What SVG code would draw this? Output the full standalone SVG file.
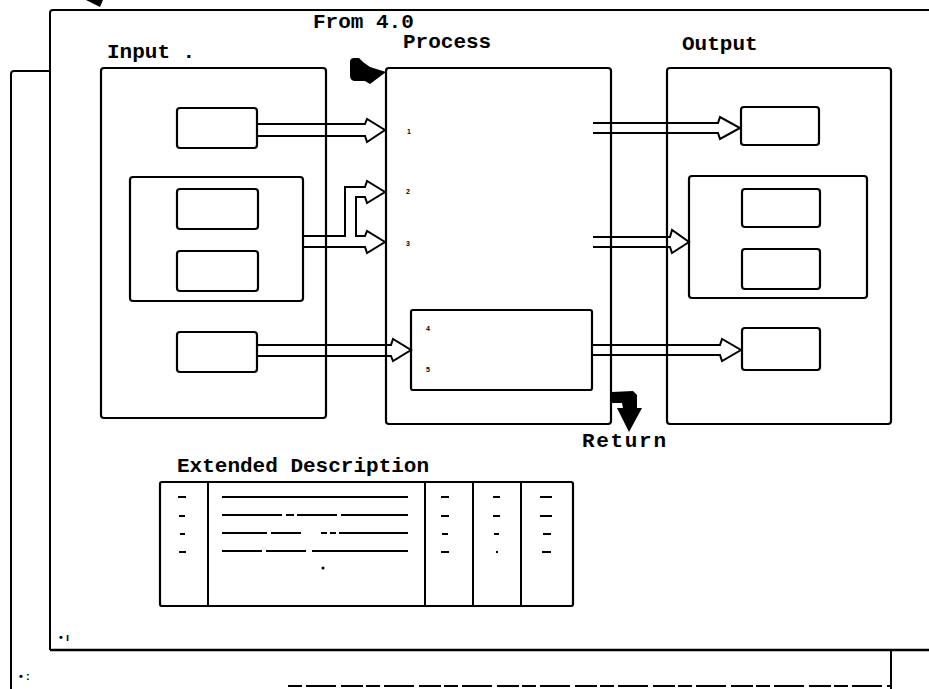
<svg xmlns="http://www.w3.org/2000/svg" width="929" height="689" viewBox="0 0 929 689">
<style>
.bx{fill:none;stroke:#000;stroke-width:2.2}
.ln{fill:none;stroke:#000;stroke-width:2}
.ar{fill:none;stroke:#000;stroke-width:2;stroke-linejoin:miter}
.lbl{font-family:"Liberation Mono","DejaVu Sans Mono",monospace;font-size:21px;font-weight:bold;fill:#000}
.tiny{font-family:"Liberation Sans",sans-serif;font-size:7px;font-weight:bold;fill:#000}
.mark{font-family:"Liberation Sans",sans-serif;font-size:11px;font-weight:bold;fill:#000}
.blk{fill:#000;stroke:none}
.dash{stroke:#000;stroke-width:2;fill:none}
</style>
<rect width="929" height="689" fill="#fff"/>
<g id="frames">
<path class="ln" d="M50,650 L50,13 Q50,10 53,10 L929,10"/>
<path d="M50,650 L929,650" stroke="#000" stroke-width="2.6" fill="none"/>
<path class="ln" d="M11,689 L11,74 Q11,71 14,71 L50,71"/>
<path class="ln" d="M891,650 L891,689"/>
<path d="M288,686 L891,686" stroke="#000" stroke-width="2" stroke-dasharray="14,4,30,5,22,3" fill="none"/>
<polygon class="blk" points="86,0 103,0 100,7"/>
<text class="mark" x="59" y="641">• ı</text>
<text class="mark" x="19" y="680">• :</text>
</g>
<g id="input">
<rect class="bx" x="101" y="68" width="225" height="350" rx="3"/>
<text class="lbl" x="107" y="58">Input .</text>
</g>
<g id="in-box1"><rect class="bx" x="177" y="108" width="80" height="40" rx="3"/></g>
<g id="in-group">
<rect class="bx" x="130" y="177" width="173" height="124" rx="3"/>
<rect class="bx" x="177" y="189" width="81" height="40" rx="3"/>
<rect class="bx" x="177" y="251" width="81" height="40" rx="3"/>
</g>
<g id="in-box3"><rect class="bx" x="177" y="332" width="80" height="40" rx="3"/></g>
<g id="process">
<rect class="bx" x="386" y="68" width="225" height="356" rx="3"/>
<text class="lbl" x="403" y="48">Process</text>
<text class="lbl" x="313" y="28">From 4.0</text>
<text class="tiny" x="407" y="134">1</text>
<text class="tiny" x="406" y="194">2</text>
<text class="tiny" x="406" y="246">3</text>
</g>
<g id="subprocess">
<rect class="bx" x="411" y="310" width="181" height="80" rx="2"/>
<text class="tiny" x="426" y="331">4</text>
<text class="tiny" x="426" y="372">5</text>
</g>
<g id="output">
<rect class="bx" x="667" y="68" width="224" height="356" rx="3"/>
<text class="lbl" x="682" y="50">Output</text>
</g>
<g id="out-box1"><rect class="bx" x="741" y="107" width="78" height="38" rx="3"/></g>
<g id="out-group">
<rect class="bx" x="689" y="176" width="178" height="122" rx="3"/>
<rect class="bx" x="742" y="189" width="78" height="38" rx="3"/>
<rect class="bx" x="742" y="249" width="78" height="40" rx="3"/>
</g>
<g id="out-box3"><rect class="bx" x="742" y="328" width="78" height="42" rx="3"/></g>
<g id="connectors">
<path class="ar" d="M257,124 L365,124 L367,119 L385,130 L367,142 L365,136 L257,136"/>
<path class="ar" d="M303,236 L345,236 L345,187 L365,187 L367,181 L385,192 L367,203 L365,197 L356,197 L356,236 L365,236 L367,231 L385,242 L367,253 L365,247 L303,247"/>
<path class="ar" d="M257,345 L391,345 L393,339 L411,350 L393,361 L391,356 L257,356"/>
<path class="ar" d="M593,123 L718,123 L720,117 L740,128 L720,139 L718,133 L593,133"/>
<path class="ar" d="M593,237 L670,237 L672,230 L689,242 L672,253 L670,247 L593,247"/>
<path class="ar" d="M592,345 L720,345 L722,339 L741,350 L722,361 L720,355 L592,355"/>
<path class="blk" d="M350,62 Q350,58 354,58 L359,58 L363,62 L370,67 L386,72 L370,84 L365,81 L354,81 Q350,80 350,76 Z"/>
<path class="blk" d="M612,392 L633,391 L637,395 L637,408 L642,408 L629,432 L617,408 L623,408 L622,403 L612,403 Z"/>
<text class="lbl" x="582" y="447" textLength="84" lengthAdjust="spacing">Return</text>
</g>
<g id="extended">
<text class="lbl" x="177" y="472">Extended Description</text>
<rect class="bx" x="160" y="482" width="413" height="124" rx="2"/>
<path class="ln" d="M208,482 V606 M425,482 V606 M473,482 V606 M521,482 V606"/>
<path class="dash" d="M178,497 h8 M179,516 h6 M180,534 h5 M179,552 h7"/>
<path class="dash" d="M222,497 h186"/>
<path class="dash" d="M222,515 h186" stroke-dasharray="60,4,8,3,40,4,70"/>
<path class="dash" d="M222,533 h186" stroke-dasharray="45,4,30,20,6,3,6,3,80"/>
<path class="dash" d="M222,551 h186" stroke-dasharray="40,4,40,6,100"/>
<circle cx="323" cy="568" r="1.5" fill="#000"/>
<path class="dash" d="M441,497 h8 M441,516 h8 M442,534 h6 M441,552 h8"/>
<path class="dash" d="M493,497 h7 M493,516 h7 M494,534 h5 M496,552 h2"/>
<path class="dash" d="M540,497 h12 M540,516 h12 M543,534 h8 M542,552 h9"/>
</g>
</svg>
